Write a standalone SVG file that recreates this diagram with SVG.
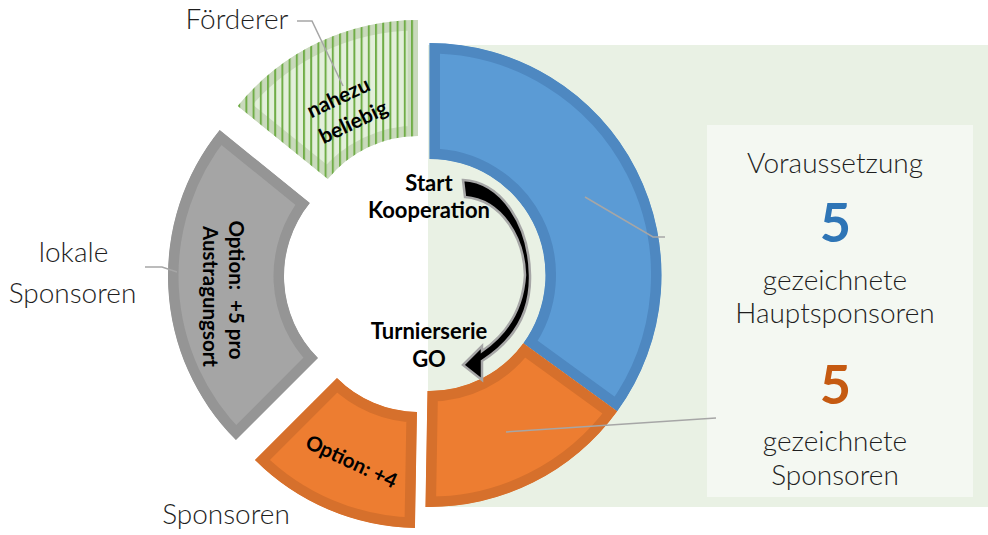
<svg xmlns="http://www.w3.org/2000/svg" width="988" height="535" viewBox="0 0 988 535">
<style>
.lbl{font-family:Lato,"Liberation Sans",sans-serif;font-weight:300;font-size:28px;fill:#1e1e1e;text-anchor:middle}
.in{font-family:Lato,"Liberation Sans",sans-serif;font-weight:700;fill:#000;text-anchor:middle}
.lead{fill:none;stroke:#A6A6A6;stroke-width:1.5}
.band{stroke-width:21}
</style>
<defs>
<path id="pBlue" d="M429.5,43 A232,232 0 0 1 617.19,411.37 L523.35,343.18 A116,116 0 0 0 429.5,159 Z"/>
<path id="pOrR" d="M617.19,411.37 A232,232 0 0 1 425.45,506.96 L427.48,390.98 A116,116 0 0 0 523.35,343.18 Z"/>
<path id="pOrL" d="M414.95,527.96 A232,232 0 0 1 254.95,460.05 L336.98,378.02 A116,116 0 0 0 416.98,411.98 Z"/>
<path id="pGray" d="M235.95,440.05 A232,232 0 0 1 219.70,130.00 L309.85,203.00 A116,116 0 0 0 317.98,358.02 Z"/>
<path id="pGreen" d="M237.70,106.00 A232,232 0 0 1 418,20 L418,136 A116,116 0 0 0 327.85,179.00 Z"/>
<clipPath id="cBlue"><use href="#pBlue"/></clipPath>
<clipPath id="cOrR"><use href="#pOrR"/></clipPath>
<clipPath id="cOrL"><use href="#pOrL"/></clipPath>
<clipPath id="cGray"><use href="#pGray"/></clipPath>
<clipPath id="cGreen"><use href="#pGreen"/></clipPath>
<pattern id="stripes" patternUnits="userSpaceOnUse" x="0.6" y="0" width="7.2" height="10">
<rect x="0" y="0" width="2" height="10" fill="#70AD47"/>
</pattern>
</defs>

<rect id="background" x="428" y="45" width="560" height="462" fill="#E9F1E4"/>
<rect id="panel" x="707" y="125" width="266" height="372" fill="#F4F8F2"/>

<g id="seg-hauptsponsoren">
<use href="#pBlue" fill="#5B9BD5" stroke="#4E88C1" class="band" clip-path="url(#cBlue)"/>
</g>
<g id="seg-sponsoren">
<use href="#pOrR" fill="#ED7D31" stroke="#D6702C" class="band" clip-path="url(#cOrR)"/>
</g>
<g id="seg-option4">
<use href="#pOrL" fill="#ED7D31" stroke="#D6702C" class="band" clip-path="url(#cOrL)"/>
<text class="in" font-size="20.5" transform="translate(348.5,468) rotate(25)">Option: +4</text>
</g>
<g id="seg-lokale">
<use href="#pGray" fill="#A5A5A5" stroke="#959595" class="band" clip-path="url(#cGray)"/>
<text class="in" font-size="20.5" xml:space="preserve" transform="translate(229,290) rotate(90)">Option:  +5 pro</text>
<text class="in" font-size="20.5" transform="translate(203,296.5) rotate(90)">Austragungsort</text>
</g>
<g id="seg-foerderer">
<use href="#pGreen" fill="#E3EFDB" stroke="#C9D9BC" class="band" clip-path="url(#cGreen)"/>
<use href="#pGreen" fill="url(#stripes)"/>
</g>

<g id="connectors">
<path class="lead" d="M297,21 H312 L343,86"/>
<path class="lead" d="M145,267 H162 L177,272"/>
<path class="lead" d="M585,197 L653,237 H665"/>
<path class="lead" d="M506,432 L716,418"/>
</g>

<g id="label-foerderer-inner">
<text class="in" font-size="21" transform="translate(341.5,104) rotate(-25.5)">nahezu</text>
<text class="in" font-size="21" transform="translate(356.5,128.5) rotate(-25.5)">beliebig</text>
</g>

<g id="arrow">
<path d="M463,180 C502,182 529,225 530,275 C531,312 515,340 482,361 L482,380 L463,365 L482,346 L482,351 C508,333 523,308 525,275 C524,238 502,200 465,197 Z" fill="#000" stroke="#A6A6A6" stroke-width="2.5" stroke-linejoin="miter"/>
</g>

<g id="center-labels">
<text class="in" font-size="22" x="429" y="190.7">Start</text>
<text class="in" font-size="22" x="429" y="218.3">Kooperation</text>
<text class="in" font-size="22" x="429" y="339.3">Turnierserie</text>
<text class="in" font-size="22" x="429" y="366.7">GO</text>
</g>

<g id="outer-labels">
<text class="lbl" x="237" y="29.3">Förderer</text>
<text class="lbl" x="73.5" y="261.7">lokale</text>
<text class="lbl" x="72.5" y="302.5">Sponsoren</text>
<text class="lbl" x="226" y="523.5">Sponsoren</text>
</g>

<g id="panel-text">
<text class="lbl" x="835" y="173">Voraussetzung</text>
<text class="in" font-size="54" x="835.5" y="242" style="fill:#2E75B6">5</text>
<text class="lbl" x="835" y="289.5">gezeichnete</text>
<text class="lbl" x="835" y="323">Hauptsponsoren</text>
<text class="in" font-size="54" x="835.5" y="404" style="fill:#C55A11">5</text>
<text class="lbl" x="835" y="450.5">gezeichnete</text>
<text class="lbl" x="835" y="485">Sponsoren</text>
</g>
</svg>
